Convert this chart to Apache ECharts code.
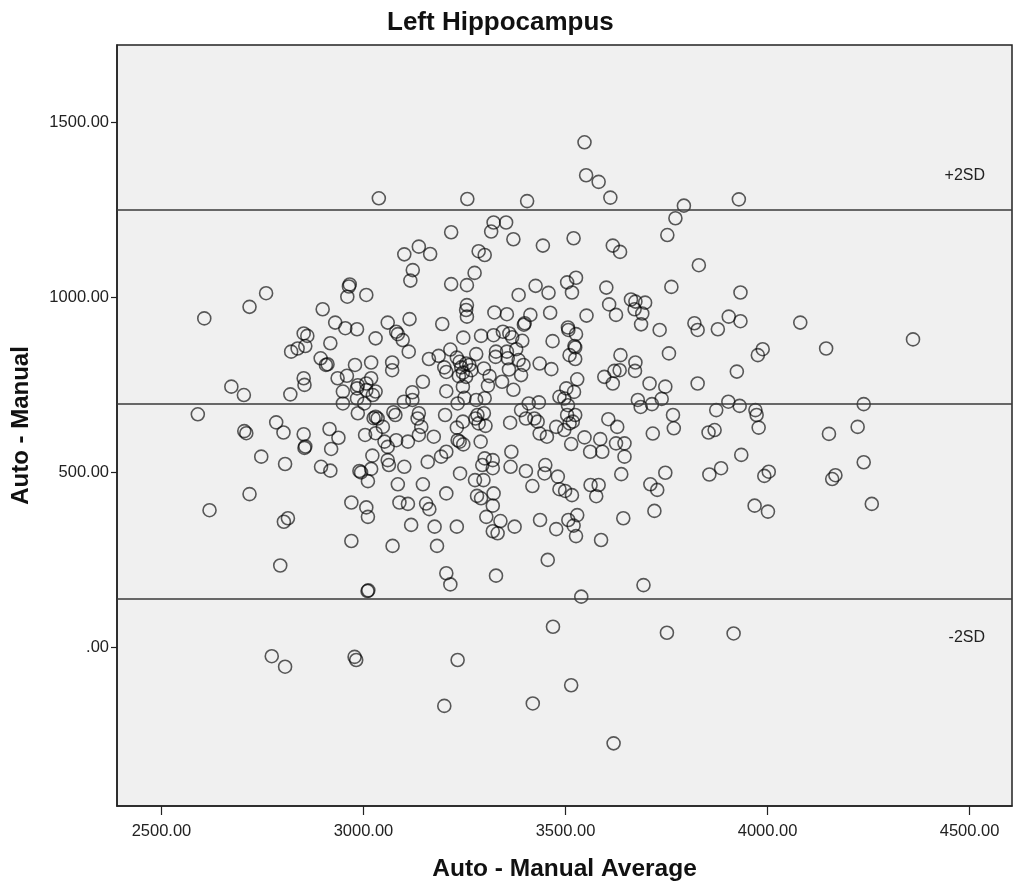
<!DOCTYPE html>
<html>
<head>
<meta charset="utf-8">
<script src="https://cdn.jsdelivr.net/npm/echarts@6/dist/echarts.min.js"></script>
<style>
html,body{margin:0;padding:0;background:#fff;}
#chart{width:1014px;height:887px;}
</style>
</head>
<body>
<div id="chart"></div>
<script>
// ---- data ----
const chartTitle = 'Left Hippocampus';
const xAxisTitle = 'Auto - Manual Average';
const yAxisTitle = 'Auto - Manual';
const xTickValues = [2500, 3000, 3500, 4000, 4500];
const yTickValues = [0, 500, 1000, 1500];
const meanDiff = 694;
const upperLimit = 1249;   // +2SD
const lowerLimit = 137;    // -2SD
const limitLabels = ['+2SD', '-2SD'];
// [average, difference]
const points = [
[2590,665],[2606,939],[2619,391],[2673,744],[2704,720],[2705,617],[2710,611],[2718,972],[2718,437],[2747,544],
[2759,1011],[2784,642],[2794,233],[2802,613],[2806,523],[2813,368],[2803,358],[2819,722],[2821,844],[2837,853],
[2852,896],[2861,889],[2856,860],[2852,768],[2852,608],[2854,569],[2856,573],[2854,749],[2894,825],[2899,965],
[2907,806],[2911,808],[2916,623],[2918,868],[2895,515],[2918,504],[2920,566],[2938,598],[2930,927],[2936,768],
[2955,911],[2959,775],[2960,1001],[2964,1030],[2966,1036],[2970,413],[2970,303],[2979,806],[2984,908],[2986,748],
[2990,503],[2994,499],[3004,606],[3007,1006],[3007,753],[3007,399],[3011,372],[3011,474],[3010,160],[3012,162],
[3019,813],[3019,768],[3019,509],[3022,547],[3030,882],[3025,654],[3038,1282],
[2949,730],[2949,696],[2984,739],[2984,710],[3007,734],[3002,696],[2986,668],[3023,720],
[3030,658],[3035,653],[3030,611],[3030,730],[3048,629],[3052,587],[3060,572],[3060,927],[3060,534],[3063,520],
[3071,813],[3071,791],[3072,289],[3074,671],[3079,663],[3081,901],[3085,894],[3081,591],[3085,465],[3089,413],
[3097,877],[3100,701],[3101,1122],[3101,515],[3110,587],[3110,409],[3112,844],[3114,937],[3116,1047],[3118,349],
[3121,728],[3121,706],[3122,1077],[3137,1144],[3137,668],[3134,653],[3143,629],[3137,606],[3147,758],[3147,465],
[3155,410],[3163,394],[3159,529],[3162,823],[3165,1123],[3174,601],[3176,344],[3182,289],[3186,832],[3192,544],
[3195,923],[3200,799],[3205,786],[3202,663],[3205,731],[3205,558],[3205,439],[3205,211],[3215,179],[3217,1185],
[3217,1037],[3215,850],[3231,827],[3238,815],[3231,627],[3231,344],[3233,696],[3233,591],[3238,587],[3247,579],
[3236,774],[3239,496],[3246,744],[3246,644],[3247,884],[3250,712],[3257,1280],[3256,1034],[3256,977],[3254,963],
[3256,944],[3242,799],[3246,784],[3254,810],[3262,806],[3267,791],[3254,772],[3276,477],[3277,653],[3282,663],
[3275,1069],[3279,837],[3279,706],[3281,432],[3285,1131],[3300,1120],[3285,639],[3290,587],[3291,889],[3291,425],
[3297,477],[3298,796],[3298,668],[3300,711],[3302,632],[3294,520],[3300,539],[3304,372],[3308,747],[3312,774],
[3316,1187],[3322,1213],[3353,1213],[3320,534],[3320,511],[3322,439],[3320,404],[3320,331],[3332,325],[3322,891],
[3324,956],[3328,844],[3327,829],[3328,204],[3339,360],[3343,758],[3345,901],[3355,951],[3355,844],[3357,825],
[3360,793],[3361,896],[3363,641],[3366,558],[3364,515],[3368,885],[3371,1165],[3371,735],[3374,344],[3378,851],
[3384,820],[3384,1006],[3390,677],[3390,777],[3393,875],[3396,806],[3397,921],[3399,925],[3402,653],[3402,503],
[3405,1274],[3409,696],[3413,949],[3418,460],[3419,-161],[3423,653],[3426,1032],[3431,644],[3434,699],[3436,610],
[3436,810],[3437,363],[3444,1147],[3448,496],[3450,520],[3454,601],[3456,249],[3458,1012],[3462,955],[3465,794],
[3468,874],[3469,58],[3477,629],[3477,337],[3481,487],[3485,715],[3485,451],
[3502,739],[3521,729],[3497,710],[3506,691],[3504,663],[3524,663],[3518,644],[3510,639],[3497,620],
[3504,1042],[3526,1055],[3516,1013],[3520,1168],[3506,913],[3507,906],[3526,894],[3522,860],[3524,856],[3510,834],
[3524,823],[3529,765],[3547,1442],[3551,1348],[3582,1329],[3611,1284],[3617,1147],[3635,1129],[3601,1027],[3608,979],
[3625,949],[3552,947],[3662,993],[3673,987],[3697,984],[3671,965],[3690,953],[3687,922],[3733,906],[3752,1177],
[3772,1225],[3793,1261],[3929,1279],[3830,1091],[3762,1029],[3933,1013],[3819,925],[3827,906],[3877,908],[3904,944],
[3933,931],[3636,834],[3756,839],[3673,813],[3672,789],[3596,772],[3621,789],[3634,791],[3617,753],[3708,753],
[3747,744],[3827,753],[3924,787],[3679,706],[3686,686],[3714,694],[3738,709],[3873,677],[3903,701],[3931,689],
[3606,651],[3628,629],[3547,599],[3586,594],[3514,580],[3561,558],[3591,558],[3625,582],[3646,582],[3646,544],
[3716,610],[3766,663],[3768,625],[3854,613],[3869,620],[3935,549],[3638,494],[3747,498],[3856,493],[3885,511],
[3499,446],[3516,434],[3562,463],[3582,463],[3576,431],[3710,465],[3727,449],[3720,389],[3507,363],[3529,377],
[3520,347],[3526,317],[3643,368],[3588,306],[3693,177],[3539,144],[3751,41],[3916,39],[3514,-109],[3619,-275],
[4081,927],[3988,851],[3976,834],[4145,853],[4360,879],[3970,677],[3973,663],[3978,627],[4238,694],[4152,609],
[4223,629],[4003,501],[3992,489],[4168,491],[4160,480],[4238,528],[3968,404],[4001,387],[4258,409],
[2773,-26],[2806,-56],[2978,-28],[2982,-37],[3233,-37],[3200,-168]
];

// ---- chart ----
const FONT = 'Liberation Sans, Arial, sans-serif';
const chart = echarts.init(document.getElementById('chart'), null, {renderer: 'canvas'});
const fmt = v => v === 0 ? '.00' : v.toFixed(2);
const lineStyle = {color: '#3a3a3a', width: 1.6, type: 'solid'};

chart.setOption({
  animation: false,
  backgroundColor: '#ffffff',
  title: {
    text: chartTitle,
    left: 382, top: 5,
    textStyle: {fontFamily: FONT, fontSize: 26, fontWeight: 'bold', color: '#111'}
  },
  grid: {
    left: 117, right: 2, top: 45, bottom: 81,
    show: true, backgroundColor: '#f0f0f0', borderColor: '#222', borderWidth: 1.5
  },
  xAxis: {
    type: 'value', min: 2390, max: 4605,
    name: xAxisTitle, nameLocation: 'middle', nameGap: 51,
    nameTextStyle: {fontFamily: FONT, fontSize: 24.5, fontWeight: 'bold', color: '#111'},
    axisLine: {show: true, onZero: false, lineStyle: {color: '#222', width: 1.5}},
    axisTick: {show: true, length: 9, lineStyle: {color: '#222', width: 1.2}, customValues: xTickValues},
    axisLabel: {fontFamily: FONT, fontSize: 16.5, color: '#222', margin: 17, customValues: xTickValues, formatter: fmt},
    splitLine: {show: false}
  },
  yAxis: {
    type: 'value', min: -454, max: 1720,
    name: yAxisTitle, nameLocation: 'middle', nameGap: 84,
    nameTextStyle: {fontFamily: FONT, fontSize: 24, fontWeight: 'bold', color: '#111'},
    axisLine: {show: true, onZero: false, lineStyle: {color: '#222', width: 1.5}},
    axisTick: {show: true, length: 6, lineStyle: {color: '#222', width: 1.2}, customValues: yTickValues},
    axisLabel: {fontFamily: FONT, fontSize: 16.5, color: '#222', margin: 8, customValues: yTickValues, formatter: fmt},
    splitLine: {show: false}
  },
  series: [{
    type: 'scatter',
    data: points,
    symbol: 'circle',
    symbolSize: 13,
    itemStyle: {color: 'rgba(0,0,0,0)', borderColor: 'rgba(0,0,0,0.8)', borderWidth: 1.6},
    markLine: {
      silent: true,
      symbol: ['none', 'none'],
      lineStyle: lineStyle,
      data: [
        {yAxis: upperLimit, label: {show: true, formatter: limitLabels[0], position: 'insideEndTop', distance: [27, 26],
          fontFamily: FONT, fontSize: 16, color: '#222'}},
        {yAxis: meanDiff, label: {show: false}},
        {yAxis: lowerLimit, label: {show: true, formatter: limitLabels[1], position: 'insideEndBottom', distance: [27, 30],
          fontFamily: FONT, fontSize: 16, color: '#222'}}
      ]
    }
  }]
});
</script>
</body>
</html>
